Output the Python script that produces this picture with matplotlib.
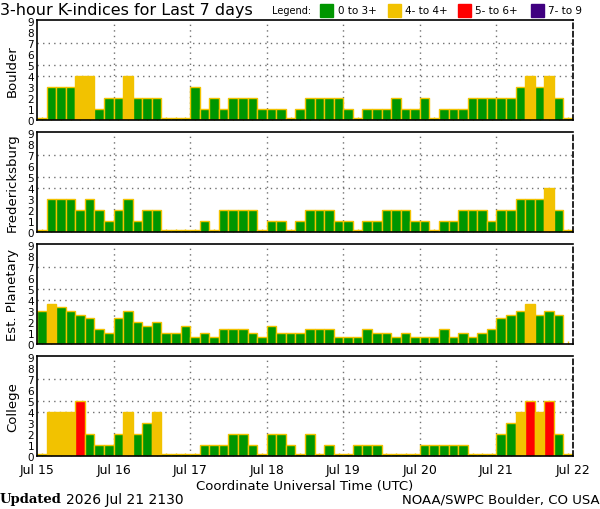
import numpy as np
import matplotlib
matplotlib.use('Agg')
import matplotlib.pyplot as plt
from matplotlib.patches import Rectangle

# 3-hour K-index values, 8 per day, Jul 15 .. Jul 21
stations = ['Boulder', 'Fredericksburg', 'Est. Planetary', 'College']

boulder = [0, 3, 3, 3, 4, 4, 1, 2, 2, 4, 2, 2, 2, 0, 0, 0,
           3, 1, 2, 1, 2, 2, 2, 1, 1, 1, 0, 1, 2, 2, 2, 2,
           1, 0, 1, 1, 1, 2, 1, 1, 2, 0, 1, 1, 1, 2, 2, 2,
           2, 2, 3, 4, 3, 4, 2, 0]

fredericksburg = [0, 3, 3, 3, 2, 3, 2, 1, 2, 3, 1, 2, 2, 0, 0, 0,
                  0, 1, 0, 2, 2, 2, 2, 0, 1, 1, 0, 1, 2, 2, 2, 1,
                  1, 0, 1, 1, 2, 2, 2, 1, 1, 0, 1, 1, 2, 2, 2, 1,
                  2, 2, 3, 3, 3, 4, 2, 0]

planetary = [3, 3.67, 3.33, 3, 2.67, 2.33, 1.33, 1, 2.33, 3, 2, 1.67, 2, 1, 1, 1.67,
             0.67, 1, 0.67, 1.33, 1.33, 1.33, 1, 0.67, 1.67, 1, 1, 1, 1.33, 1.33, 1.33, 0.67,
             0.67, 0.67, 1.33, 1, 1, 0.67, 1, 0.67, 0.67, 0.67, 1.33, 0.67, 1, 0.67, 1, 1.33,
             2.33, 2.67, 3, 3.67, 2.67, 3, 2.67, np.nan]

college = [0, 4, 4, 4, 5, 2, 1, 1, 2, 4, 2, 3, 4, 0, 0, 0,
           0, 1, 1, 1, 2, 2, 1, 0, 2, 2, 1, 0, 2, 0, 1, 0,
           0, 1, 1, 1, 0, 0, 0, 0, 1, 1, 1, 1, 1, 0, 0, 0,
           2, 3, 4, 5, 4, 5, 2, 0]

day_labels = ['Jul 15', 'Jul 16', 'Jul 17', 'Jul 18', 'Jul 19', 'Jul 20', 'Jul 21', 'Jul 22']

legend_labels = ['0 to 3+', '4- to 4+', '5- to 6+', '7- to 9']

GREEN = '#009600'
YELLOW = '#F2C200'
RED = '#FF0000'
PURPLE = '#400080'


def kcolor(v):
    if v < 3.6:
        return GREEN
    if v < 4.6:
        return YELLOW
    if v < 6.6:
        return RED
    return PURPLE


def panel(ax, values, name, last):
    values = np.array(values, dtype=float)
    x = np.arange(len(values))
    ok = ~np.isnan(values)
    # zero readings still get a thin sliver
    heights = np.where(values[ok] == 0, 0.15, values[ok])
    cols = [kcolor(v) for v in values[ok]]
    ax.bar(x[ok], heights, width=1.0, align='edge', color=cols,
           edgecolor=YELLOW, linewidth=1.0, zorder=2)

    ax.set_xlim(0, len(values))
    ax.set_ylim(0, 9.1)
    ax.set_yticks(range(10))
    ax.set_xticks(np.arange(0, len(values) + 1, 8))
    ax.set_xticks(x + 0.5, minor=True)

    for d in range(8, len(values), 8):
        ax.axvline(d, color='#707070', ls=(0, (1, 3)), lw=1, zorder=1)
    for k in (4, 5, 7):
        ax.axhline(k, color='#707070', ls=(0, (1, 3)), lw=1, zorder=1)

    ax.tick_params(axis='y', length=0, pad=2, labelsize=7.5)
    ax.tick_params(axis='x', which='major', length=0, pad=5, labelsize=9)
    ax.tick_params(axis='x', which='minor', direction='in', length=2.5,
                   width=1, color=YELLOW)
    if last:
        ax.set_xticklabels(day_labels)
        ax.set_xlabel('Coordinate Universal Time (UTC)', fontsize=9.5, labelpad=2)
    else:
        ax.set_xticklabels([])

    for s in ax.spines.values():
        s.set_linewidth(1.2)
        s.set_color('black')
    ax.spines['right'].set_linestyle((0, (3, 2)))
    ax.set_ylabel(name, fontsize=9.5)
    ax.yaxis.set_label_coords(-0.034, 0.5)


fig = plt.figure(figsize=(6, 5.1), dpi=100)
data = [boulder, fredericksburg, planetary, college]
for i, (vals, name) in enumerate(zip(data, stations)):
    top = 21 + 112 * i
    ax = fig.add_axes([37 / 600, 1 - (top + 100) / 510, 536 / 600, 100 / 510])
    panel(ax, vals, name, i == 3)

fig.text(0.0, 1 - 10 / 510, '3-hour K-indices for Last 7 days', fontsize=11.5,
         va='center', ha='left')
fig.text(272 / 600, 1 - 11 / 510, 'Legend:', fontsize=7, va='center', ha='left')
sq_x = [320, 388, 458, 531]
txt_x = [338, 405, 475, 548]
for sx, tx, c, lab in zip(sq_x, txt_x, [GREEN, YELLOW, RED, PURPLE], legend_labels):
    fig.patches.append(Rectangle((sx / 600, 1 - 18 / 510), 13 / 600, 13 / 510,
                                 transform=fig.transFigure, color=c))
    fig.text(tx / 600, 1 - 11 / 510, lab, fontsize=7.5, va='center', ha='left')

fig.text(0.0, 1 - 500 / 510, 'Updated', fontsize=9.5, family='DejaVu Serif',
         weight='bold', va='center', ha='left')
fig.text(66 / 600, 1 - 500 / 510, '2026 Jul 21 2130', fontsize=10, va='center', ha='left')
fig.text(1.0, 1 - 500 / 510, 'NOAA/SWPC Boulder, CO USA', fontsize=9.5,
         va='center', ha='right')

fig.savefig('out.png', dpi=100)
